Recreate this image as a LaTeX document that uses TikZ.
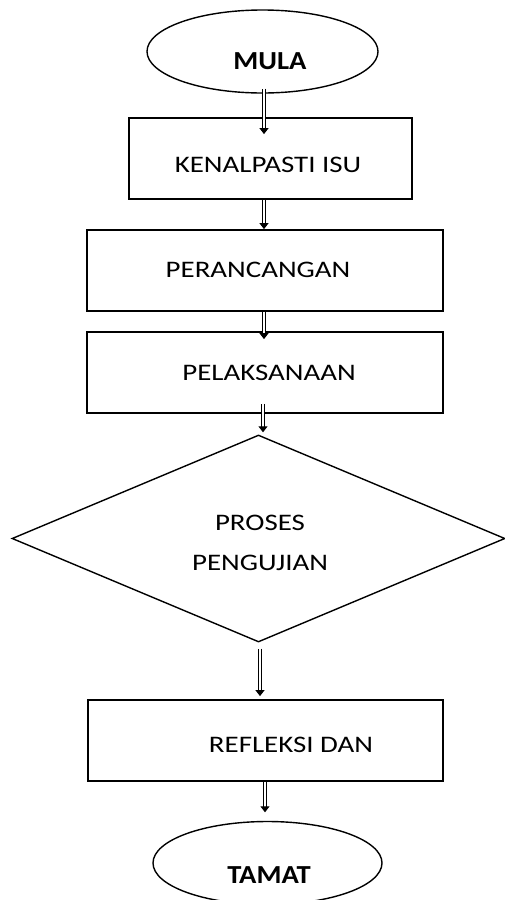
\documentclass[tikz,border=0pt]{standalone}
\usepackage{fontspec}
\setmainfont{Carlito}[FakeStretch=1.22]
\newfontfamily\boldfont{Carlito Bold}[FakeStretch=1.1]
\usetikzlibrary{shapes.geometric,arrows.meta}
\begin{document}
\begin{tikzpicture}[x=1pt,y=-1pt,
  boxnode/.style={draw,line width=1.8pt,inner sep=0,minimum height=81pt},
  termnode/.style={draw,ellipse,line width=1.4pt,inner sep=0},
  decnode/.style={draw,diamond,line width=1.4pt,inner sep=0,minimum width=493pt,minimum height=207pt},
  lbl/.style={inner sep=0,text height=15pt,text depth=0pt,font=\fontsize{23.7}{28}\selectfont},
  blbl/.style={inner sep=0,text height=17pt,text depth=0pt,font=\boldfont\fontsize{26}{30}\selectfont},
  arr/.style={double,double distance=2pt,line width=1pt,-{Triangle[width=9pt,length=6pt]}}]
\useasboundingbox (0,0) rectangle (505,900);
\node[termnode,minimum width=231pt,minimum height=83pt] (mula) at (262.5,51.5) {};
\node[boxnode,minimum width=283pt] (kenal) at (270.5,158.5) {};
\node[boxnode,minimum width=356pt] (peran) at (265,270.5) {};
\node[boxnode,minimum width=356pt] (pelak) at (265,372.5) {};
\node[decnode] (dec) at (258.5,538.5) {};
\node[boxnode,minimum width=355pt] (refl) at (265.5,740.5) {};
\node[termnode,minimum width=229pt,minimum height=83pt] (tamat) at (267.5,863) {};
\node[blbl] (tmula) at (270,61) {MULA};
\node[lbl] (tkenal) at (268,165) {KENALPASTI ISU};
\node[lbl] (tperan) at (258,270) {PERANCANGAN};
\node[lbl] (tpelak) at (269,373) {PELAKSANAAN};
\node[lbl] (tproses) at (260,523) {PROSES};
\node[lbl] (tpeng) at (260,563) {PENGUJIAN};
\node[lbl] (trefl) at (291,745) {REFLEKSI DAN};
\node[blbl] (ttamat) at (269,875) {TAMAT};
\draw[arr] ([xshift=1.5pt,yshift=5pt]mula.south) -- ([xshift=-6.5pt,yshift=-17pt]kenal.north);
\draw[arr] ([xshift=-6.5pt]kenal.south) -- ([xshift=-1pt]peran.north);
\draw[arr] ([xshift=-1pt]peran.south) -- ([xshift=-1pt,yshift=-8pt]pelak.north);
\draw[arr] ([xshift=-2pt,yshift=10pt]pelak.south) -- ([xshift=4.5pt,yshift=2pt]dec.north);
\draw[arr] ([xshift=1.5pt,yshift=-6pt]dec.south) -- ([xshift=-5.5pt,yshift=3pt]refl.north);
\draw[arr] ([xshift=-0.5pt]refl.south) -- ([xshift=-2.5pt,yshift=8.5pt]tamat.north);
\end{tikzpicture}
\end{document}
